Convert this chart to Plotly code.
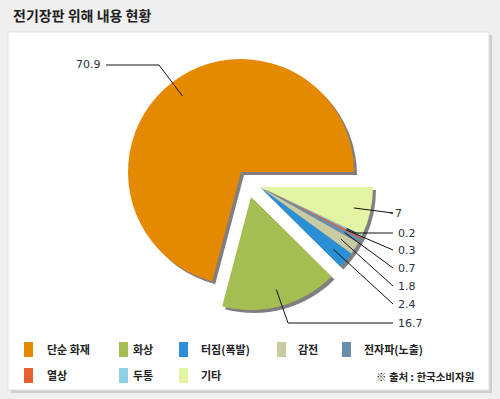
import math
import plotly.graph_objects as go

# ---- data ----
categories = ["단순 화재", "화상", "터짐(폭발)", "감전", "전자파(노출)", "열상", "두통", "기타"]
values = [70.9, 16.7, 2.4, 1.8, 0.7, 0.3, 0.2, 7]
colors = ["#E58A00", "#A5BE52", "#2B8FD6", "#C9CBA3", "#6A8DAB", "#E5602F", "#8FCFE3", "#E3F5A5"]
title_text = "전기장판 위해 내용 현황"
source_text = "※ 출처 : 한국소비자원"

# ---- layout parameters (pixels) ----
W, H = 500, 399
CX, CY, R = 241, 172, 113
# exploded groups: slice -> group, and each group's pixel offset
GROUP = [0, 1, 2, 2, 2, 2, 2, 2]
GROUP_OFFSET = [(0, 0), (10, 25), (19, 15)]
SHADOW = 3
ANCHOR_F = 0.85
# label placement per slice
LABEL_Y = [65, 323, 304, 286, 268, 250, 233, 213]
ELBOW_X = [159, 288, 393, 393, 393, 393, 356, 393]
END_X = [106, 393, 393, 393, 393, 393, 393, 390]
SIDE = ["left", "right", "right", "right", "right", "right", "right", "right"]

LEG_SW_X = [24, 119, 179, 277, 342, 24, 119, 179]
LEG_TX_X = [45, 131, 199, 296, 362, 45, 131, 199]
LEG_Y = [349, 349, 349, 349, 349, 375, 375, 375]


def px(x):
    return x / W


def py(y):
    return 1 - y / H


total = sum(values)
# first slice ends (counterclockwise) at 3 o'clock
rotation = 90 - values[0] / total * 360.0


def dom(cx, cy):
    return dict(x=[px(cx - R), px(cx + R)], y=[py(cy + R), py(cy - R)])


fig = go.Figure()
# shadows first
for g, (dx, dy) in enumerate(GROUP_OFFSET):
    cols = ["rgba(0,0,0,0.5)" if GROUP[i] == g else "rgba(0,0,0,0)" for i in range(len(values))]
    fig.add_trace(go.Pie(
        values=values, labels=categories, sort=False, direction="counterclockwise",
        rotation=rotation, textinfo="none", hoverinfo="skip", showlegend=False,
        marker=dict(colors=cols, line=dict(width=0)),
        domain=dom(CX + dx + SHADOW, CY + dy + SHADOW),
    ))
for g, (dx, dy) in enumerate(GROUP_OFFSET):
    cols = [colors[i] if GROUP[i] == g else "rgba(0,0,0,0)" for i in range(len(values))]
    fig.add_trace(go.Pie(
        values=values, labels=categories, sort=False, direction="counterclockwise",
        rotation=rotation, textinfo="none", hoverinfo="skip", showlegend=False,
        marker=dict(colors=cols, line=dict(width=0)),
        domain=dom(CX + dx, CY + dy),
    ))

shapes = []
annotations = []
# panel + shadow
shapes.append(dict(type="rect", xref="paper", yref="paper", x0=px(11), x1=px(492), y0=py(393), y1=py(35),
                   fillcolor="#CFCFCF", line=dict(width=0), layer="below"))
shapes.append(dict(type="rect", xref="paper", yref="paper", x0=px(8), x1=px(489), y0=py(390), y1=py(32),
                   fillcolor="#FFFFFF", line=dict(color="#E2E2E2", width=1), layer="below"))

# leader lines and value labels computed from data angles (math angle, ccw from east)
cum = 0.0
for i, v in enumerate(values):
    start = cum / total * 360.0
    mid = math.radians(start + v / total * 180.0)
    cum += v
    dx, dy = GROUP_OFFSET[GROUP[i]]
    ax_ = CX + dx + ANCHOR_F * R * math.cos(mid)
    ay_ = CY + dy - ANCHOR_F * R * math.sin(mid)
    ly = LABEL_Y[i]
    pts = [(ax_, ay_), (ELBOW_X[i], ly), (END_X[i], ly)]
    for (x0, y0), (x1, y1) in zip(pts[:-1], pts[1:]):
        if abs(x0 - x1) < 0.01 and abs(y0 - y1) < 0.01:
            continue
        shapes.append(dict(type="line", xref="paper", yref="paper", x0=px(x0), y0=py(y0), x1=px(x1), y1=py(y1),
                           line=dict(color="#111111", width=1), layer="above"))
    if SIDE[i] == "left":
        annotations.append(dict(x=px(END_X[i] - 3), y=py(ly), xref="paper", yref="paper", text=f"{v:g}",
                                showarrow=False, xanchor="right", yanchor="middle",
                                font=dict(family="DejaVu Sans", size=11, color="#2A2F3A")))
    else:
        annotations.append(dict(x=px(END_X[i] + 3), y=py(ly), xref="paper", yref="paper", text=f"{v:g}",
                                showarrow=False, xanchor="left", yanchor="middle",
                                font=dict(family="DejaVu Sans", size=11, color="#2A2F3A")))

# custom legend
for i, name in enumerate(categories):
    shapes.append(dict(type="rect", xref="paper", yref="paper", x0=px(LEG_SW_X[i]), x1=px(LEG_SW_X[i] + 9),
                       y0=py(LEG_Y[i] + 8), y1=py(LEG_Y[i] - 7), fillcolor=colors[i], line=dict(width=0)))
    annotations.append(dict(x=px(LEG_TX_X[i]), y=py(LEG_Y[i]), xref="paper", yref="paper", text=f"<b>{name}</b>",
                            showarrow=False, xanchor="left", yanchor="middle",
                            font=dict(family="Noto Sans CJK KR", size=11, color="#222222")))

annotations.append(dict(x=px(476), y=py(376), xref="paper", yref="paper", text=f"<b>{source_text}</b>",
                        showarrow=False, xanchor="right", yanchor="middle",
                        font=dict(family="Noto Sans CJK KR", size=10.5, color="#222222")))
annotations.append(dict(x=px(11), y=py(15), xref="paper", yref="paper", text=f"<b>{title_text}</b>",
                        showarrow=False, xanchor="left", yanchor="middle",
                        font=dict(family="Noto Sans CJK KR", size=14, color="#1E1E1E")))

fig.update_layout(
    width=W, height=H, margin=dict(l=0, r=0, t=0, b=0),
    paper_bgcolor="#EFEFEF", plot_bgcolor="#EFEFEF",
    shapes=shapes, annotations=annotations, showlegend=False,
)

fig.write_html("out.html", config={"displayModeBar": False},
               post_script="document.body.style.margin='0';document.body.style.overflow='hidden';")
